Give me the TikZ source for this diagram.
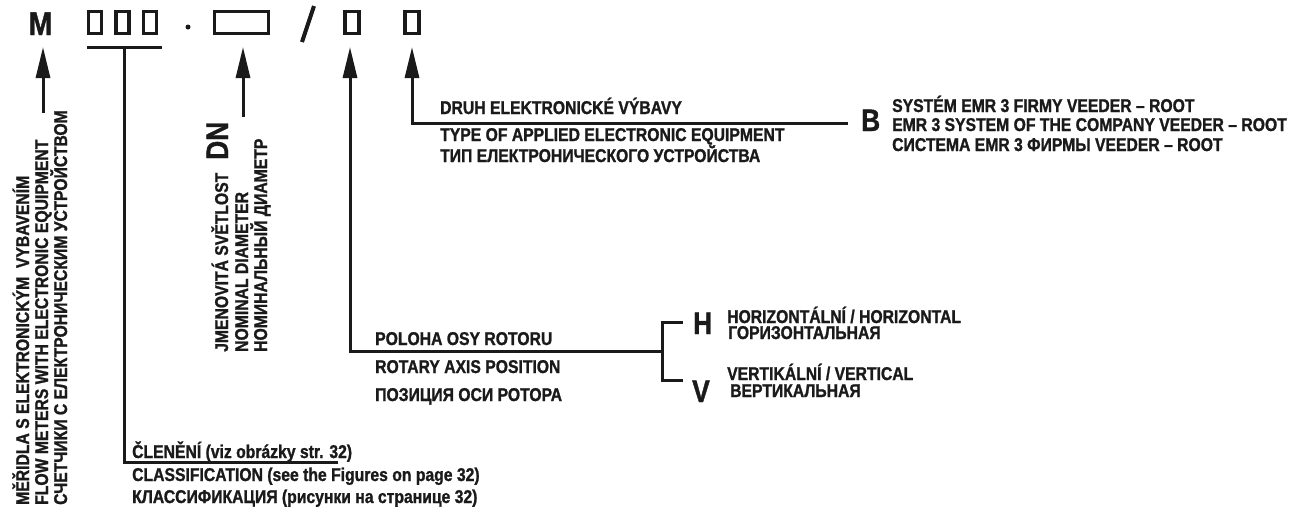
\documentclass[tikz,border=0pt]{standalone}
\usepackage{fontspec}
\setmainfont{Liberation Sans}[FakeStretch=0.85, BoldFeatures={FakeBold=1.2}]
\usetikzlibrary{arrows.meta}
\definecolor{ink}{HTML}{1A1A1A}
\tikzset{
  txt/.style={inner sep=0pt, anchor=base west, text=ink, font=\fontsize{18.5}{21}\selectfont\bfseries},
  vtxt/.style={txt, rotate=90},
  big/.style={inner sep=0pt, anchor=base west, text=ink, font=\fontsize{31}{31}\selectfont\bfseries},
  ln/.style={draw=ink, line width=3pt, line join=miter},
  arr/.style={ln, -{Triangle[width=14pt,length=31pt]}},
  codebox/.style={draw=ink, line width=3.6pt, inner sep=0pt, minimum height=22pt},
}
\begin{document}
\begin{tikzpicture}[x=1pt,y=-1pt]
\useasboundingbox (0,0) rectangle (1310,515);
% code line
\node[inner sep=0pt, anchor=base, text=ink, font=\fontsize{33}{33}\selectfont\bfseries] (M) at (40.5,35) {M};
\node[codebox, minimum width=13pt] (b1) at (95,22.5) {};
\node[codebox, minimum width=13pt] (b2) at (122.5,22.5) {};
\node[codebox, minimum width=13pt] (b3) at (150,22.5) {};
\node[circle, fill=ink, inner sep=0pt, minimum size=5pt] (dot) at (188,27) {};
\node[codebox, minimum width=54pt] (bdn) at (241.5,22.5) {};
\coordinate (s1) at (302,42);
\coordinate (s2) at (314,6);
\draw[draw=ink, line width=4pt] (s1) -- (s2);
\node[codebox, minimum width=14pt] (br) at (352,22.5) {};
\node[codebox, minimum width=14pt] (be) at (412,22.5) {};

% M arrow
\coordinate (tM) at (43,47);
\coordinate (sM) at (43,113);
\draw[arr] (sM) -- (tM);
\node[vtxt] (m1) at (29,505) {MĚŘIDLA S ELEKTRONICKÝM\ \ VYBAVENÍM};
\node[vtxt] (m2) at (48,505) {FLOW METERS WITH ELECTRONIC EQUIPMENT};
\node[vtxt] (m3) at (67,505) {СЧЕТЧИКИ С ЕЛЕКТРОНИЧЕСКИМ УСТРОЙСТВОМ};

% classification
\coordinate (u1) at (87,47);
\coordinate (u2) at (162,47);
\draw[ln] (u1) -- (u2);
\coordinate (tC) at (124,47);
\coordinate (eC) at (338,462);
\draw[ln] (eC) -| (tC);
\node[txt] (c1) at (132,458) {ČLENĚNÍ (viz obrázky str. 32)};
\node[txt] (c2) at (132,481) {CLASSIFICATION (see the Figures on page 32)};
\node[txt] (c3) at (132,503) {КЛАССИФИКАЦИЯ (рисунки на странице 32)};

% DN arrow
\coordinate (tD) at (243,47);
\coordinate (sD) at (243,117);
\draw[arr] (sD) -- (tD);
\node[big, rotate=90] (DN) at (228,160) {DN};
\node[vtxt] (d1) at (228,352) {JMENOVITÁ SVĚTLOST};
\node[vtxt] (d2) at (248,352) {NOMINAL DIAMETER};
\node[vtxt] (d3) at (267,352) {НОМИНАЛЬНЫЙ ДИАМЕТР};

% rotor axis
\coordinate (tR) at (350,47);
\coordinate (kR) at (662,351);
\draw[arr] (kR) -| (tR);
\coordinate (kH) at (683,322);
\coordinate (kV) at (683,380);
\draw[ln] (kH) -| (kR) |- (kV);
\node[txt] (r1) at (375,345) {POLOHA OSY ROTORU};
\node[txt] (r2) at (375,373) {ROTARY AXIS POSITION};
\node[txt] (r3) at (375,401) {ПОЗИЦИЯ ОСИ РОТОРА};
\node[big] (H) at (693,334) {H};
\node[big] (V) at (692,402) {V};
\node[txt] (h1) at (727,323) {HORIZONTÁLNÍ / HORIZONTAL};
\node[txt] (h2) at (728,339) {ГОРИЗОНТАЛЬНАЯ};
\node[txt] (v1) at (727,380) {VERTIKÁLNÍ / VERTICAL};
\node[txt] (v2) at (730,397) {ВЕРТИКАЛЬНАЯ};

% electronic equipment
\coordinate (tE) at (412,47);
\coordinate (kE) at (848,123);
\draw[arr] (kE) -| (tE);
\node[txt] (e1) at (440,114) {DRUH ELEKTRONICKÉ VÝBAVY};
\node[txt] (e2) at (440,141) {TYPE OF APPLIED ELECTRONIC EQUIPMENT};
\node[txt] (e3) at (440,162) {ТИП ЕЛЕКТРОНИЧЕСКОГО УСТРОЙСТВА};
\node[big] (B) at (861,131) {B};
\node[txt] (bt1) at (892,112) {SYSTÉM EMR 3 FIRMY VEEDER – ROOT};
\node[txt] (bt2) at (892,131) {EMR 3 SYSTEM OF THE COMPANY VEEDER – ROOT};
\node[txt] (bt3) at (892,151) {СИСТЕМА EMR 3 ФИРМЫ VEEDER – ROOT};
\end{tikzpicture}
\end{document}
